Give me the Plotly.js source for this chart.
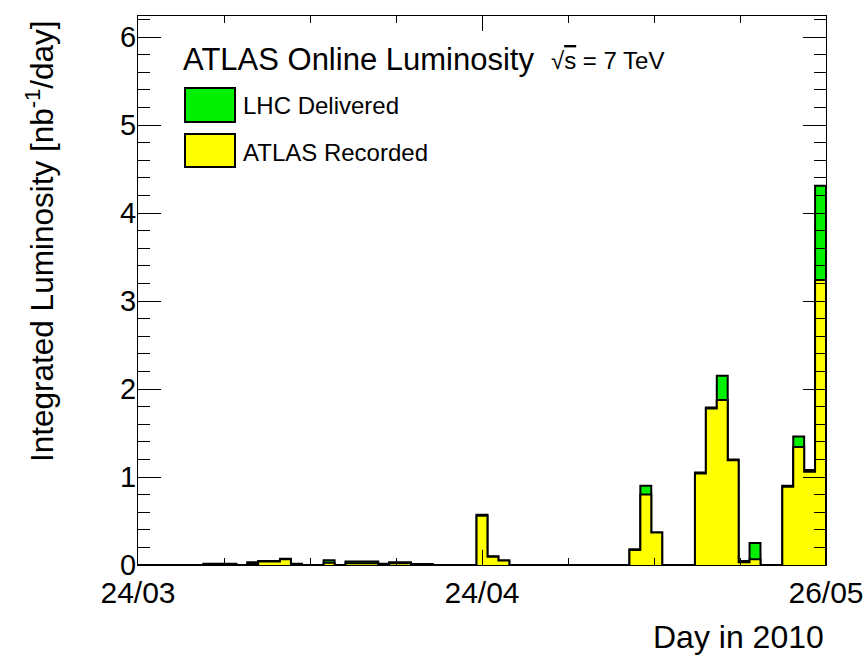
<!DOCTYPE html>
<html>
<head>
<meta charset="utf-8">
<script src="https://cdn.plot.ly/plotly-3.0.1.min.js"></script>
<style>
  html, body { margin: 0; padding: 0; background: #fff; }
  #chart { width: 868px; height: 656px; }
</style>
</head>
<body>
<div id="chart"></div>
<script>
// One bin per day, 63 days from 24/03/2010 to 26/05/2010
const dayIndex = Array.from({length: 63}, (_, i) => i);

// LHC delivered luminosity per day [nb^-1/day]
const lhcDelivered = [
  0, 0, 0, 0, 0, 0, 0.015, 0.015, 0.015, 0,
  0.03, 0.045, 0.045, 0.07, 0.015, 0, 0, 0.055, 0, 0.04,
  0.04, 0.04, 0.015, 0.03, 0.03, 0.012, 0.012, 0, 0, 0,
  0, 0.57, 0.10, 0.05, 0, 0, 0, 0, 0, 0,
  0, 0, 0, 0, 0, 0.18, 0.90, 0.37, 0, 0,
  0, 1.05, 1.79, 2.15, 1.20, 0.045, 0.25, 0, 0, 0.90,
  1.46, 1.08, 4.31
];

// ATLAS recorded luminosity per day [nb^-1/day]
const atlasRecorded = [
  0, 0, 0, 0, 0, 0, 0.01, 0.01, 0.01, 0,
  0.01, 0.04, 0.04, 0.065, 0.01, 0, 0, 0.025, 0, 0.02,
  0.02, 0.02, 0.01, 0.02, 0.02, 0.008, 0.008, 0, 0, 0,
  0, 0.56, 0.095, 0.05, 0, 0, 0, 0, 0, 0,
  0, 0, 0, 0, 0, 0.17, 0.80, 0.37, 0, 0,
  0, 1.04, 1.78, 1.875, 1.19, 0.03, 0.065, 0, 0, 0.89,
  1.34, 1.06, 3.24
];

const tickPositions = [0, 31.5, 63];
const tickLabels = ['24/03', '24/04', '26/05'];

const seriesNames = ['LHC Delivered', 'ATLAS Recorded'];
const seriesColors = ['rgb(0,240,0)', '#ffff00'];

// histogram step outline: bin edges
function stepX(vals) {
  const xs = dayIndex.slice();
  xs.push(vals.length, vals.length);
  return xs;
}
function stepY(vals) {
  const ys = vals.slice();
  ys.push(vals[vals.length - 1], 0);
  return ys;
}

const traces = [lhcDelivered, atlasRecorded].map((vals, k) => ({
  type: 'scatter',
  mode: 'lines',
  x: stepX(vals),
  y: stepY(vals),
  line: {shape: 'hv', color: '#000', width: 2},
  fill: 'tozeroy',
  fillcolor: seriesColors[k],
  name: seriesNames[k],
  hoverinfo: 'skip'
}));

// pixel -> paper helpers (plot area 138..826 x 16..565)
const L = 138, R = 826, T = 16, B = 565;
const px = x => (x - L) / (R - L);
const py = y => (B - y) / (B - T);

const FONT = 'Liberation Sans, Arial, Helvetica, sans-serif';

const shapes = [
  {type: 'rect', xref: 'paper', yref: 'paper', x0: px(185), x1: px(235), y0: py(88), y1: py(122),
   fillcolor: seriesColors[0], line: {color: '#000', width: 2}},
  {type: 'rect', xref: 'paper', yref: 'paper', x0: px(185), x1: px(235), y0: py(134), y1: py(167),
   fillcolor: seriesColors[1], line: {color: '#000', width: 2}}
];

const annotations = [
  {text: 'ATLAS Online Luminosity', xref: 'paper', yref: 'paper', x: px(181), y: py(59),
   xanchor: 'left', yanchor: 'middle', showarrow: false, font: {family: FONT, size: 31, color: '#000'}},
  {text: '√<span style="text-decoration:overline">s</span> = 7 TeV', xref: 'paper', yref: 'paper', x: px(549), y: py(61),
   xanchor: 'left', yanchor: 'middle', showarrow: false, font: {family: FONT, size: 24, color: '#000'}},
  {text: seriesNames[0], xref: 'paper', yref: 'paper', x: px(241), y: py(106),
   xanchor: 'left', yanchor: 'middle', showarrow: false, font: {family: FONT, size: 24, color: '#000'}},
  {text: seriesNames[1], xref: 'paper', yref: 'paper', x: px(241), y: py(152),
   xanchor: 'left', yanchor: 'middle', showarrow: false, font: {family: FONT, size: 24, color: '#000'}},
  {text: 'Integrated Luminosity [nb<sup>-1</sup>/day]', xref: 'paper', yref: 'paper', x: px(40), y: py(18),
   xanchor: 'center', yanchor: 'top', textangle: -90, showarrow: false, font: {family: FONT, size: 31.5, color: '#000'}},
  {text: 'Day in 2010', xref: 'paper', yref: 'paper', x: px(826), y: py(637),
   xanchor: 'right', yanchor: 'middle', showarrow: false, font: {family: FONT, size: 32, color: '#000'}}
];

const layout = {
  width: 868, height: 656,
  margin: {l: L, r: 868 - R, t: T, b: 656 - B, pad: 0},
  paper_bgcolor: '#fff', plot_bgcolor: '#fff',
  showlegend: false,
  xaxis: {
    range: [0, 63], fixedrange: true,
    tickmode: 'array', tickvals: tickPositions, ticktext: tickLabels,
    ticks: 'inside', ticklen: 15, tickwidth: 1, tickcolor: '#000',
    showline: true, linecolor: '#000', linewidth: 1, mirror: 'ticks',
    showgrid: false, zeroline: false,
    tickfont: {family: FONT, size: 30, color: '#000'},
    ticklabelstandoff: 1,
    minor: {tickmode: 'linear', tick0: 0, dtick: 63 / 8, ticks: 'inside', ticklen: 7, tickwidth: 1, tickcolor: '#000', showgrid: false}
  },
  yaxis: {
    range: [0, 6.24], fixedrange: true,
    tickmode: 'linear', tick0: 0, dtick: 1,
    ticks: 'inside', ticklen: 23, tickwidth: 1, tickcolor: '#000',
    showline: true, linecolor: '#000', linewidth: 1, mirror: 'ticks',
    showgrid: false, zeroline: false,
    tickfont: {family: FONT, size: 29, color: '#000'},
    ticklabelstandoff: -5,
    minor: {tickmode: 'linear', tick0: 0, dtick: 0.2, ticks: 'inside', ticklen: 12, tickwidth: 1, tickcolor: '#000', showgrid: false}
  },
  shapes: shapes,
  annotations: annotations
};

Plotly.newPlot('chart', traces, layout, {displayModeBar: false, staticPlot: true});
</script>
</body>
</html>
